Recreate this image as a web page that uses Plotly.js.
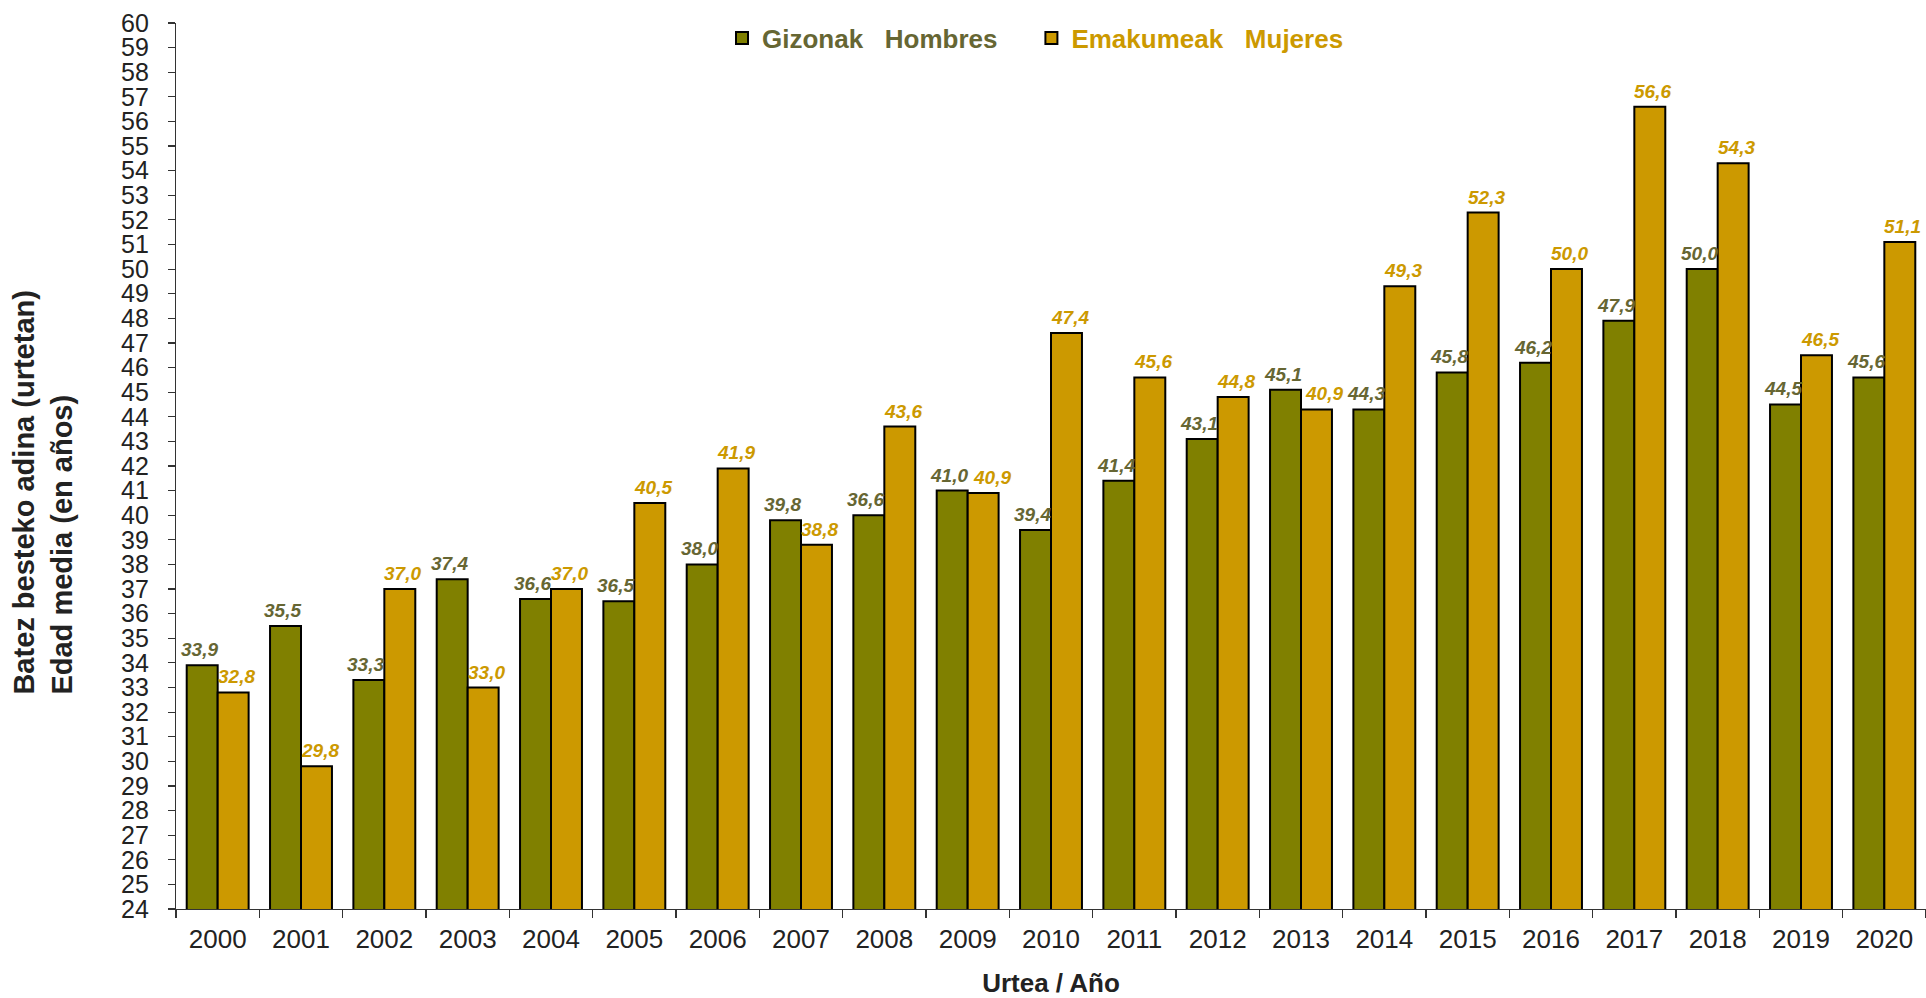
<!DOCTYPE html>
<html>
<head>
<meta charset="utf-8">
<script src="https://cdn.plot.ly/plotly-3.0.1.min.js"></script>
<style>html,body{margin:0;padding:0;background:#fff;}#chart{width:1926px;height:998px;}</style>
</head>
<body>
<div id="chart"></div>
<script>
const years = ['2000','2001','2002','2003','2004','2005','2006','2007','2008','2009','2010','2011','2012','2013','2014','2015','2016','2017','2018','2019','2020'];
// bar heights as drawn
const men =   [33.9, 35.5, 33.3, 37.4, 36.6, 36.5, 38.0, 39.8, 40.0, 41.0, 39.4, 41.4, 43.1, 45.1, 44.3, 45.8, 46.2, 47.9, 50.0, 44.5, 45.6];
const women = [32.8, 29.8, 37.0, 33.0, 37.0, 40.5, 41.9, 38.8, 43.6, 40.9, 47.4, 45.6, 44.8, 44.3, 49.3, 52.3, 50.0, 56.6, 54.3, 46.5, 51.1];
// data labels as printed
const menLabels =   ['33,9','35,5','33,3','37,4','36,6','36,5','38,0','39,8','36,6','41,0','39,4','41,4','43,1','45,1','44,3','45,8','46,2','47,9','50,0','44,5','45,6'];
const womenLabels = ['32,8','29,8','37,0','33,0','37,0','40,5','41,9','38,8','43,6','40,9','47,4','45,6','44,8','40,9','49,3','52,3','50,0','56,6','54,3','46,5','51,1'];
const yTicks = [];
for (let v = 24; v <= 60; v++) yTicks.push(v);
const yTitleLines = ['Batez besteko adina (urtetan)', 'Edad media (en años)'];
const xTitle = 'Urtea / Año';
const legendNames = ['Gizonak\u00a0\u00a0\u00a0Hombres', 'Emakumeak\u00a0\u00a0\u00a0Mujeres'];

const FONT = 'Liberation Sans, Arial, sans-serif';
const MEN_COLOR = '#808000', WOMEN_COLOR = '#CC9900';
const MEN_TEXT = '#666633', WOMEN_TEXT = '#CC9900';
const PAD = '\u00a0\u00a0\u00a0\u00a0';

const traces = [
  {
    type: 'bar', x: years, y: men, name: '<span style="color:' + MEN_TEXT + '">' + legendNames[0] + PAD + '</span>',
    marker: {color: MEN_COLOR, line: {color: '#000', width: 2}},
    hoverinfo: 'x+y'
  },
  {
    type: 'bar', x: years, y: women, name: '<span style="color:' + WOMEN_TEXT + '">' + legendNames[1] + '</span>',
    marker: {color: WOMEN_COLOR, line: {color: '#000', width: 2}},
    hoverinfo: 'x+y'
  }
];

// value labels placed over each bar via the category (index) / value axes
const HALF = 15.5; // half of one bar width in px
const annotations = [];
years.forEach((yr, i) => {
  annotations.push({
    xref: 'x', yref: 'y', x: i, y: men[i], text: menLabels[i], showarrow: false,
    xanchor: 'center', yanchor: 'bottom', xshift: -HALF - 3, yshift: 3,
    font: {family: FONT, size: 19, color: MEN_TEXT, weight: 'bold', style: 'italic'}
  });
  annotations.push({
    xref: 'x', yref: 'y', x: i, y: women[i], text: womenLabels[i], showarrow: false,
    xanchor: 'center', yanchor: 'bottom', xshift: HALF + (yr === '2009' ? 9 : (yr === '2013' ? 7 : 3)), yshift: 3,
    font: {family: FONT, size: 19, color: WOMEN_TEXT, weight: 'bold', style: 'italic'}
  });
});
// y-axis title (two lines, start-aligned like the original)
annotations.push({
  xref: 'paper', yref: 'paper', x: -0.076, y: 0.47, xanchor: 'center', yanchor: 'middle',
  text: yTitleLines.join('<br>'), textangle: -90, align: 'left', showarrow: false,
  font: {family: FONT, size: 29, weight: 'bold', color: '#222'}
});

const layout = {
  width: 1926, height: 998,
  margin: {l: 176, r: 0, t: 23, b: 89, pad: 0},
  paper_bgcolor: '#fff', plot_bgcolor: '#fff',
  font: {family: FONT, color: '#222'},
  barmode: 'group', bargap: 0.257, bargroupgap: 0,
  showlegend: true,
  legend: {
    orientation: 'h', x: 0.312, xanchor: 'left', y: 0.983, yanchor: 'middle',
    font: {family: FONT, size: 26, weight: 'bold'},
    bgcolor: 'rgba(0,0,0,0)', traceorder: 'normal'
  },
  annotations: annotations,
  xaxis: {
    type: 'category', categoryorder: 'array', categoryarray: years,
    tickson: 'boundaries', ticks: 'outside', ticklen: 8, tickwidth: 1.2, tickcolor: '#333',
    showline: true, linecolor: '#333', linewidth: 1.2, showgrid: false, zeroline: false,
    tickfont: {family: FONT, size: 26, color: '#222'},
    ticklabelstandoff: 7,
    title: {text: xTitle, font: {family: FONT, size: 26, weight: 'bold', color: '#222'}, standoff: 26},
    fixedrange: true
  },
  yaxis: {
    range: [24, 60], tickmode: 'array', tickvals: yTicks, ticktext: yTicks.map(String),
    ticks: 'outside', ticklen: 7, tickwidth: 1.2, tickcolor: '#333',
    showline: true, linecolor: '#333', linewidth: 1.2, showgrid: false, zeroline: false,
    tickfont: {family: FONT, size: 25, color: '#222'},
    ticklabelstandoff: 14,
    fixedrange: true
  }
};

Plotly.newPlot('chart', traces, layout, {displayModeBar: false, staticPlot: true});
</script>
</body>
</html>
